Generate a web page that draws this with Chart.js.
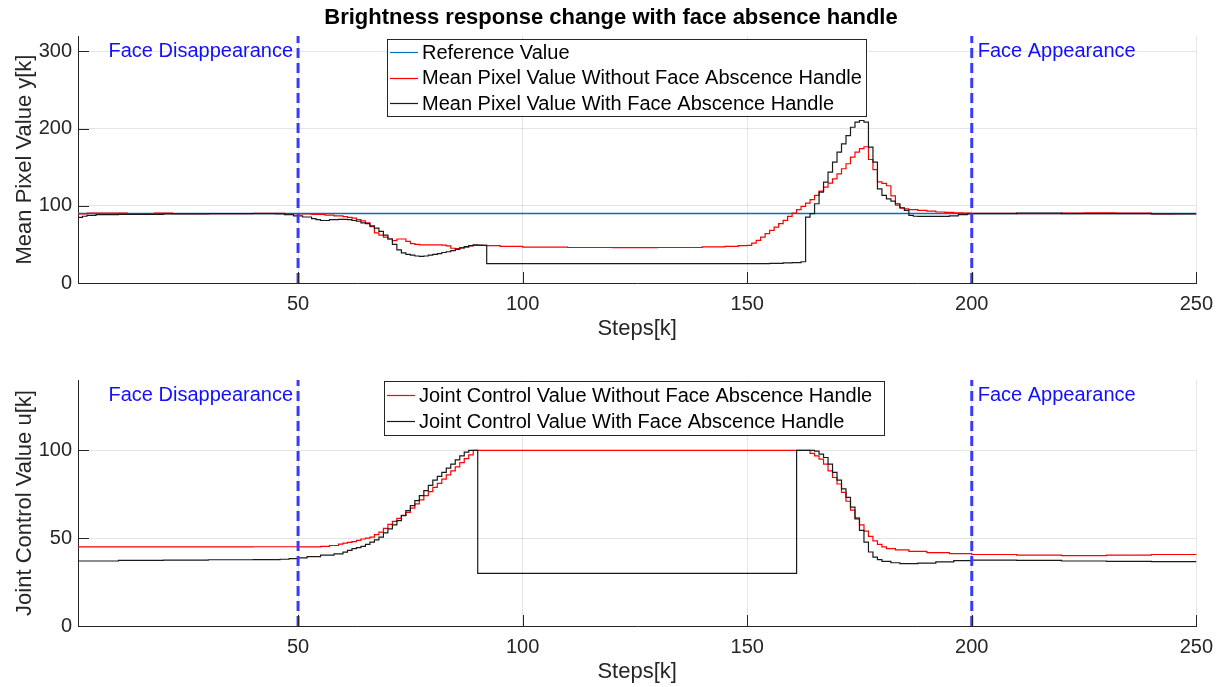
<!DOCTYPE html>
<html><head><meta charset="utf-8">
<script src="https://cdn.jsdelivr.net/npm/chart.js@4/dist/chart.umd.min.js"></script>
<style>
html,body{margin:0;padding:0;background:#fff;}
#wrap{position:relative;width:1222px;height:687px;background:#fff;}
.c{position:absolute;left:0;width:1222px;}
</style></head><body>
<div id="wrap">
<div class="c" style="top:0;height:345px"><canvas id="topChart"></canvas></div>
<div class="c" style="top:345px;height:342px"><canvas id="botChart"></canvas></div>
</div>
<script>
// ---------- data ----------
const titleText = 'Brightness response change with face absence handle';
const xTicks = [50, 100, 150, 200, 250];
const topYTicks = [0, 100, 200, 300];
const botYTicks = [0, 50, 100];
const eventSteps = [50, 200];
const eventLabels = ['Face Disappearance', 'Face Appearance'];

const topLabels = ['Reference Value', 'Mean Pixel Value Without Face Abscence Handle', 'Mean Pixel Value With Face Abscence Handle'];
const botLabels = ['Joint Control Value Without Face Abscence Handle', 'Joint Control Value With Face Abscence Handle'];

const referenceSeries = [[1, 90], [250, 90]];

const topRedSeries = [[1,89.5],[3,90.5],[8,90.5],[12,90],[18,90.6],[22,90],[30,90],[40,90.2],[47,90],[50,89.5],[53,89],[56,88],[58,87],[60,86],[61,85],[62,84],[63,82],[64,80.5],[65,78],[66,73],[67,65],[68,62],[69,59.5],[70,57],[71,55],[72,57],[73,57],[74,54],[75,51],[76,50],[77,49.5],[80,49.3],[82,49],[83,48],[84,45],[85,44.5],[86,45.5],[87,46.5],[88,48],[89,48.8],[92,48.5],[95,47.5],[100,46.5],[110,46],[120,45.8],[130,46],[140,46.8],[145,47.5],[148,48.3],[150,48.8],
[151,51.7],[152,55.2],[153,59.5],[154,63.9],[155,68.2],[156,72.5],[157,76.8],[158,81.1],[159,86.3],[160,90.6],[161,95],[162,99.2],[163,103.5],[164,107.9],[165,113.5],[166,119],[167,124.2],[168,129.4],[169,135],[170,141.5],[171,148],[172,154.5],[173,163],[174,169.5],[175,174],[176,176.5],[177,160],[178,147],[179,131],[180,129],[181,126],[182,113],[183,101],[184,97],[185,96],[186,95],[188,94],[190,93],[192,92],[194,91.4],[196,90.9],[198,90.5],[200,90.2],[210,90],[220,90.5],[225,91],[232,90.5],[240,89.5],[245,90],[250,90]];

const topBlackSeries = [[1,85],[2,86.5],[3,87.5],[5,88.5],[10,89],[20,89.5],[30,89.8],[40,89.8],[45,89.5],[47,88.5],[49,87],[51,85.5],[53,83.5],[54,82],[55,81],[57,82],[59,82.5],[61,82],[62,81],[63,80],[64,78],[65,77],[66,74],[67,71],[68,67],[69,62],[70,57],[71,50],[72,43],[73,39],[74,37],[75,36],[76,35],[77,34.5],[78,35],[79,36],[80,37],[81,38],[82,39.5],[83,40.5],[84,42],[85,43.5],[86,45.5],[87,47],[88,48.5],[89,49.5],[90,49],[91,48.8],[92,25],[140,25],[150,25.2],[155,25.5],[158,26],[160,26.5],[162,27.5],[163,85.4],[164,89.8],[165,102.7],[166,117.7],[167,130.7],[168,143.6],[169,156.5],[170,169.5],[171,180.3],[172,191],[173,201.8],[174,208.3],[175,210.5],[176,208.3],[177,176],[178,156.5],[179,122],[180,113.5],[181,109],[182,106],[183,102.7],[184,97.5],[185,94],[186,87.6],[187,86.5],[188,86.2],[192,86.2],[195,87],[197,88.5],[199,89.5],[200,90],[210,90.5],[220,90],[230,89.8],[240,89.5],[250,90]];

const botRedSeries = [[1,45],[20,45],[40,45.1],[50,45],[55,45.3],[57,45.8],[59,46.6],[60,47.2],[61,47.6],[62,48],[63,48.7],[64,49.5],[65,50],[66,50.6],[67,52],[68,53.4],[69,55.6],[70,57.8],[71,59.5],[72,61.3],[73,63],[74,64.7],[75,67.1],[76,69.5],[77,71.8],[78,74.2],[79,76.5],[80,78.9],[81,81.2],[82,83.6],[83,86],[84,88.3],[85,90.6],[86,93],[87,95.2],[88,97.4],[89,100],[163,100],[164,98.2],[165,96.8],[166,95],[167,92.1],[168,88.3],[169,84.5],[170,80.8],[171,76],[172,71],[173,66],[174,61.5],[175,57.5],[176,54],[177,51],[178,48.5],[179,46.5],[180,45],[181,44],[183,43.3],[186,42.5],[190,41.8],[195,41.2],[200,40.7],[210,40.3],[220,40.1],[230,40.3],[240,40.7],[250,41]];

const botBlackSeries = [[1,37],[10,37.3],[20,37.5],[30,37.7],[40,37.8],[46,38],[48,38.3],[50,38.8],[52,39.5],[55,40.3],[58,41],[60,42],[61,43],[62,44],[63,44.6],[64,45.3],[65,46.5],[66,47.7],[67,49],[68,50.6],[69,53],[70,55.3],[71,57.6],[72,60],[73,62.8],[74,65.7],[75,68.5],[76,71.3],[77,74.2],[78,77],[79,80],[80,83],[81,85.2],[82,87.4],[83,89.8],[84,92.1],[85,94.5],[86,96.8],[87,99],[88,100],[90,30],[161,100],[165,99.5],[166,97.8],[167,95.9],[168,92.1],[169,87.4],[170,83],[171,78],[172,73.2],[173,67.6],[174,61],[175,54.4],[176,47.7],[177,42.1],[178,39.2],[179,37.8],[180,36.8],[182,36],[184,35.5],[188,35.8],[192,36.5],[196,37.2],[200,37.5],[210,37.3],[220,37],[230,36.8],[240,36.6],[250,36.4]];

// ---------- helpers ----------
const FONT = '"Liberation Sans", Arial, Helvetica, sans-serif';
const INK = '#262626';
const toPts = s => s.map(([k, v]) => ({x: k, y: v}));

const decor = {
  id: 'decor',
  afterDraw(chart, args, o) {
    const {ctx, chartArea: a, scales: {x, y}} = chart;
    ctx.save();
    // inward ticks (MATLAB style)
    ctx.strokeStyle = INK; ctx.lineWidth = 1;
    ctx.beginPath();
    y.ticks.forEach(t => { const py = Math.round(y.getPixelForValue(t.value)) + 0.5; ctx.moveTo(a.left, py); ctx.lineTo(a.left + 11, py); });
    x.ticks.forEach(t => { const px = Math.round(x.getPixelForValue(t.value)) + 0.5; ctx.moveTo(px, a.bottom); ctx.lineTo(px, a.bottom - 11); });
    ctx.stroke();
    // event annotations
    ctx.font = '20px ' + FONT;
    ctx.fillStyle = '#1010ff'; ctx.textBaseline = 'middle';
    eventSteps.forEach((k, i) => {
      const px = x.getPixelForValue(k);
      ctx.textAlign = i === 0 ? 'right' : 'left';
      ctx.fillText(eventLabels[i], i === 0 ? px - 5 : px + 6, a.top + 15);
    });
    // legend box
    const L = o.legend;
    ctx.fillStyle = '#fff';
    ctx.fillRect(L.x, L.y, L.w, L.h);
    ctx.strokeStyle = INK; ctx.lineWidth = 1;
    ctx.strokeRect(L.x + 0.5, L.y + 0.5, L.w, L.h);
    const items = chart.data.datasets.filter(d => d.inLegend);
    ctx.textAlign = 'left'; ctx.textBaseline = 'middle';
    ctx.font = '20px ' + FONT;
    items.forEach((d, i) => {
      const cy = L.y + L.first + i * L.rowH;
      ctx.strokeStyle = d.borderColor; ctx.lineWidth = 1.2;
      ctx.beginPath(); ctx.moveTo(L.x + 3, Math.round(cy) + 0.5); ctx.lineTo(L.x + 31, Math.round(cy) + 0.5); ctx.stroke();
      ctx.fillStyle = '#000';
      ctx.fillText(d.label, L.x + 35, cy + 1);
    });
    // axis titles
    ctx.fillStyle = INK;
    ctx.font = '22px ' + FONT;
    ctx.textAlign = 'center'; ctx.textBaseline = 'middle';
    ctx.fillText('Steps[k]', (a.left + a.right) / 2, a.bottom + 46);
    ctx.save();
    ctx.translate(25, (a.top + a.bottom) / 2);
    ctx.rotate(-Math.PI / 2);
    ctx.fillText(o.yTitle, 0, 0);
    ctx.restore();
    // title
    if (o.title) {
      ctx.fillStyle = '#000';
      ctx.font = 'bold 22px ' + FONT;
      ctx.fillText(o.title, chart.width / 2, 18);
    }
    ctx.restore();
  }
};

function eventDatasets(yMax) {
  return eventSteps.map(k => ({
    label: 'event', inLegend: false, data: [{x: k, y: 0}, {x: k, y: yMax}],
    borderColor: '#3a3af8', borderWidth: 3, borderDash: [10, 5], pointRadius: 0, stepped: false, order: 0
  }));
}

function makeChart(id, datasets, yMax, yTicks, yTitle, legend, topPad, xH, title) {
  new Chart(document.getElementById(id), {
    type: 'line',
    data: {datasets: datasets.concat(eventDatasets(yMax))},
    options: {
      responsive: true, maintainAspectRatio: false, animation: false,
      layout: {padding: {left: 0, right: 25, top: topPad, bottom: 0}},
      elements: {point: {radius: 0}, line: {tension: 0}},
      plugins: {legend: {display: false}, tooltip: {enabled: false}, title: {display: false},
        decor: {legend, yTitle, title}},
      scales: {
        x: {
          type: 'linear', min: 1, max: 250,
          afterBuildTicks: s => { s.ticks = xTicks.map(v => ({value: v})); },
          afterFit: s => { s.height = xH; },
          grid: {color: 'rgba(38,38,38,0.12)', drawTicks: false},
          border: {display: true, color: INK, width: 1},
          ticks: {color: INK, font: {size: 20, family: FONT}, padding: 9, maxRotation: 0}
        },
        y: {
          type: 'linear', min: 0, max: yMax,
          afterBuildTicks: s => { s.ticks = yTicks.map(v => ({value: v})); },
          afterFit: s => { s.width = 78; },
          grid: {color: 'rgba(38,38,38,0.12)', drawTicks: false},
          border: {display: true, color: INK, width: 1},
          ticks: {color: INK, font: {size: 20, family: FONT}, padding: 6}
        }
      }
    },
    plugins: [decor]
  });
}

const lineStyle = (label, data, color, width, order) => ({
  label, inLegend: true, data: toPts(data), borderColor: color, borderWidth: width,
  pointRadius: 0, stepped: true, fill: false, order
});

makeChart('topChart', [
  lineStyle(topLabels[0], referenceSeries, '#0072BD', 1.5, 3),
  lineStyle(topLabels[1], topRedSeries, '#ff0000', 1.2, 2),
  lineStyle(topLabels[2], topBlackSeries, '#1a1a1a', 1.2, 1)
], 320, topYTicks, 'Mean Pixel Value y[k]',
  {x: 387, y: 39, w: 479, h: 77, first: 13, rowH: 25.5}, 36, 62, titleText);

makeChart('botChart', [
  lineStyle(botLabels[0], botRedSeries, '#ff0000', 1.2, 2),
  lineStyle(botLabels[1], botBlackSeries, '#1a1a1a', 1.2, 1)
], 140, botYTicks, 'Joint Control Value u[k]',
  {x: 384, y: 36, w: 500, h: 54, first: 14, rowH: 26}, 35, 61, null);
</script>
</body></html>
